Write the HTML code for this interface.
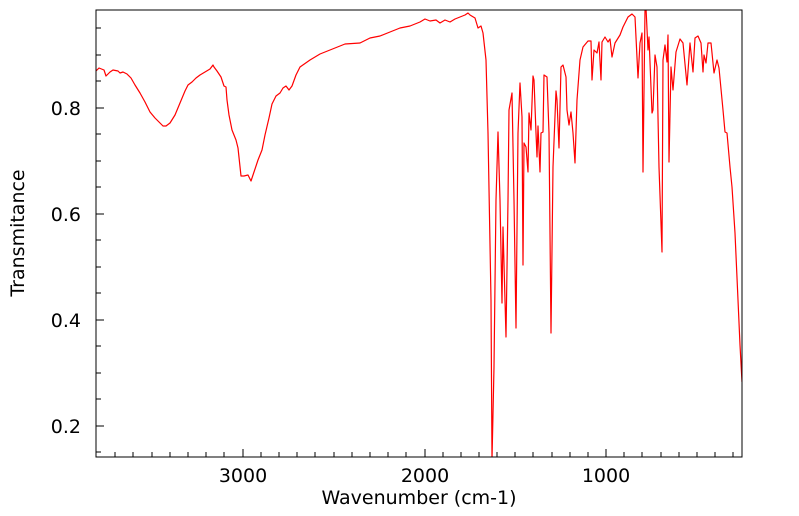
<!DOCTYPE html>
<html><head><meta charset="utf-8"><style>
html,body{margin:0;padding:0;background:#fff;}
svg{display:block;}
text{font-family:"DejaVu Sans","Liberation Sans",sans-serif;font-size:19px;fill:#000;}
</style></head><body>
<svg width="799" height="516" viewBox="0 0 799 516" xmlns="http://www.w3.org/2000/svg">
<defs><clipPath id="c"><rect x="96" y="10" width="646" height="447"/></clipPath></defs>
<g clip-path="url(#c)">
<polyline fill="none" stroke="#ff0000" stroke-width="1.2" stroke-linejoin="round" points="
96,71 99,68 104,70 106,76 110,72 113,70 118,71 120,73 123,72 127,74 131,78 135,85 140,93 145,102 150,112 155,118 160,123 163,126 166,126 170,123 175,115 180,103 185,91 188,85 192,82 196,78 200,75 205,72 210,69 213,65 214,67 217,71 221,77 224,86 226,87 227,100 229,115 232,130 236,140 238,148 241,176 244,176 248,175 251,181 254,172 258,160 262,150 265,135 269,118 272,104 276,96 280,93 283,88 286,86 289,90 292,86 296,75 300,67 310,60 320,54 330,50 345,44 360,43 370,38 380,36 390,32 400,28 410,26 420,22 425,19 430,21 436,20 440,23 445,20 450,22 455,19 460,17 465,15 468,13 470,15 475,18 478,28 481,26 483,33 486,60 488,133 491,300 492,460 494,367 496,200 498,132 500,200 502,303 503,227 506,337 508,200 509,110 512,93 514,200 516,328 518,133 520,83 522,117 523,265 524,143 526,147 528,172 529,113 531,130 533,76 534,80 536,133 537,157 538,126 540,172 541,133 543,132 544,75 547,77 549,133 551,333 553,167 556,91 557,100 559,148 561,67 563,65 566,77 567,110 569,125 571,112 573,133 575,163 577,100 580,60 583,47 588,41 591,41 592,80 594,50 597,53 599,42 601,80 602,42 605,37 608,42 610,39 612,57 615,43 620,35 623,27 628,17 632,14 635,17 638,78 640,43 642,33 643,172 645,10 646,8 648,50 649,37 652,113 653,110 655,55 657,67 659,167 662,252 663,60 665,45 667,62 668,35 669,162 671,67 673,90 676,52 680,39 683,43 687,85 690,43 693,72 695,38 698,36 701,43 703,72 704,55 706,63 708,43 711,43 714,73 717,60 719,68 723,110 725,132 727,133 730,167 732,187 735,233 738,300 740,345 742,382"/>
</g>
<rect x="96" y="10" width="646" height="447" fill="none" stroke="#000" stroke-width="1"/>
<g stroke="#000" stroke-width="1">
<line x1="96" y1="108" x2="104" y2="108"/><line x1="96" y1="214" x2="104" y2="214"/><line x1="96" y1="320" x2="104" y2="320"/><line x1="96" y1="426" x2="104" y2="426"/>
<line x1="96" y1="28" x2="101" y2="28"/><line x1="96" y1="55" x2="101" y2="55"/><line x1="96" y1="81" x2="101" y2="81"/>
<line x1="96" y1="134" x2="101" y2="134"/><line x1="96" y1="161" x2="101" y2="161"/><line x1="96" y1="187" x2="101" y2="187"/>
<line x1="96" y1="240" x2="101" y2="240"/><line x1="96" y1="267" x2="101" y2="267"/><line x1="96" y1="293" x2="101" y2="293"/>
<line x1="96" y1="346" x2="101" y2="346"/><line x1="96" y1="373" x2="101" y2="373"/><line x1="96" y1="399" x2="101" y2="399"/>
<line x1="96" y1="452" x2="101" y2="452"/>
<line x1="243" y1="457" x2="243" y2="449"/><line x1="425" y1="457" x2="425" y2="449"/><line x1="606" y1="457" x2="606" y2="449"/>
<line x1="115" y1="457" x2="115" y2="452"/><line x1="133" y1="457" x2="133" y2="452"/><line x1="152" y1="457" x2="152" y2="452"/><line x1="170" y1="457" x2="170" y2="452"/><line x1="188" y1="457" x2="188" y2="452"/><line x1="206" y1="457" x2="206" y2="452"/><line x1="224" y1="457" x2="224" y2="452"/>
<line x1="261" y1="457" x2="261" y2="452"/><line x1="279" y1="457" x2="279" y2="452"/><line x1="297" y1="457" x2="297" y2="452"/><line x1="315" y1="457" x2="315" y2="452"/><line x1="334" y1="457" x2="334" y2="452"/><line x1="352" y1="457" x2="352" y2="452"/><line x1="370" y1="457" x2="370" y2="452"/><line x1="388" y1="457" x2="388" y2="452"/><line x1="406" y1="457" x2="406" y2="452"/>
<line x1="443" y1="457" x2="443" y2="452"/><line x1="461" y1="457" x2="461" y2="452"/><line x1="479" y1="457" x2="479" y2="452"/><line x1="497" y1="457" x2="497" y2="452"/><line x1="515" y1="457" x2="515" y2="452"/><line x1="533" y1="457" x2="533" y2="452"/><line x1="552" y1="457" x2="552" y2="452"/><line x1="570" y1="457" x2="570" y2="452"/><line x1="588" y1="457" x2="588" y2="452"/>
<line x1="624" y1="457" x2="624" y2="452"/><line x1="642" y1="457" x2="642" y2="452"/><line x1="661" y1="457" x2="661" y2="452"/><line x1="679" y1="457" x2="679" y2="452"/><line x1="697" y1="457" x2="697" y2="452"/><line x1="715" y1="457" x2="715" y2="452"/><line x1="733" y1="457" x2="733" y2="452"/>
</g>
<text x="81" y="115" text-anchor="end">0.8</text>
<text x="81" y="221" text-anchor="end">0.6</text>
<text x="81" y="327" text-anchor="end">0.4</text>
<text x="81" y="433" text-anchor="end">0.2</text>
<text x="243" y="482" text-anchor="middle">3000</text>
<text x="425" y="482" text-anchor="middle">2000</text>
<text x="606" y="482" text-anchor="middle">1000</text>
<text x="419" y="504" text-anchor="middle">Wavenumber (cm-1)</text>
<text transform="translate(24,233) rotate(-90)" text-anchor="middle">Transmitance</text>
</svg>
</body></html>
